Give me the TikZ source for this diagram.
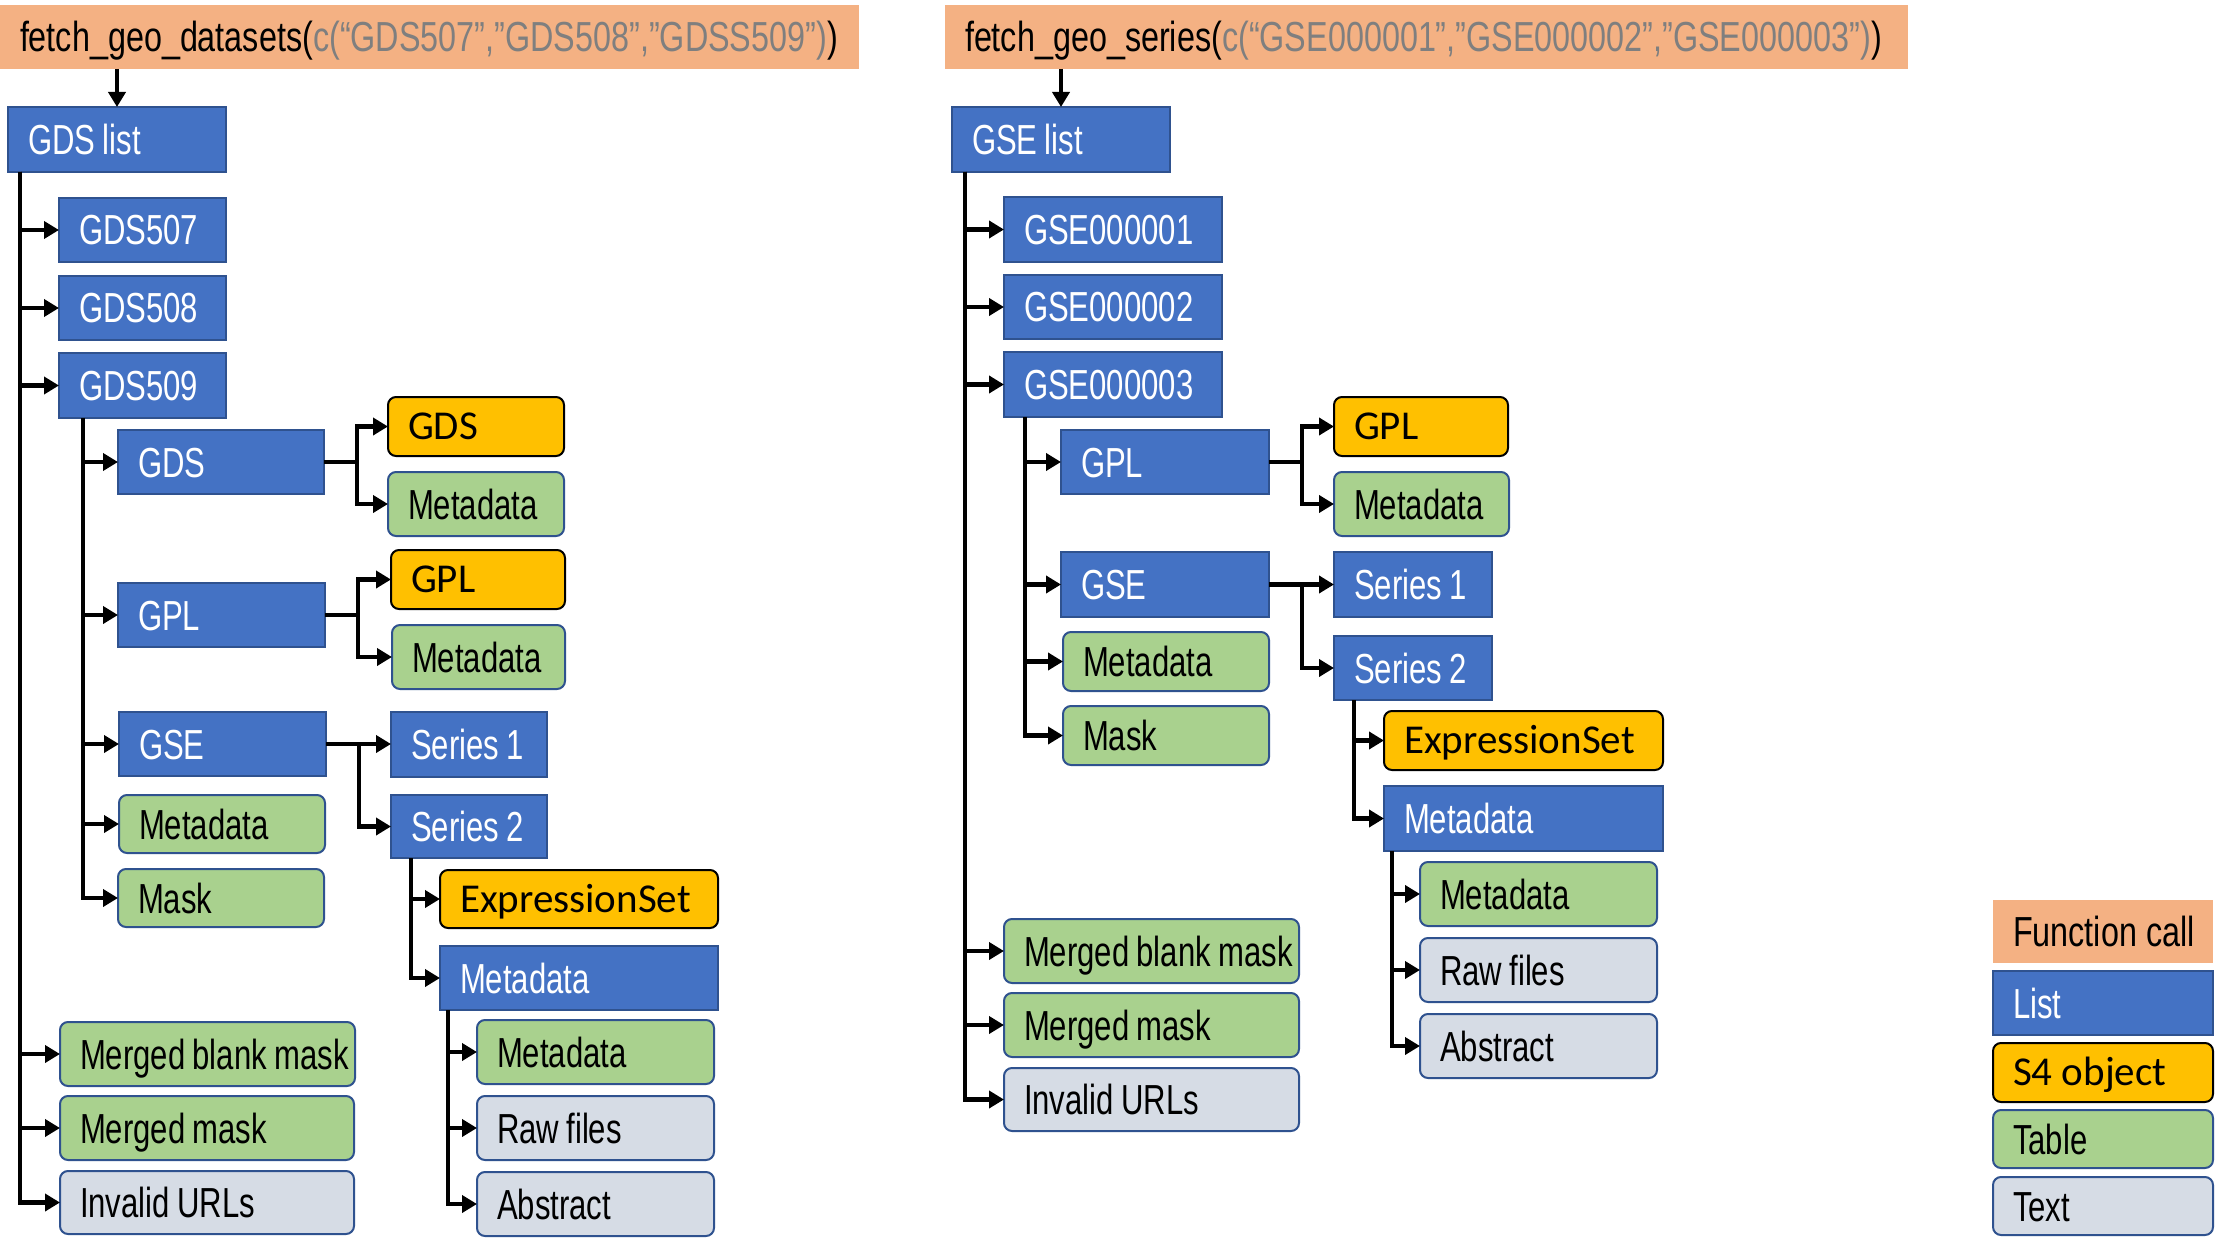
\documentclass[tikz,border=0pt]{standalone}
\usepackage{fontspec}
\newfontfamily\narrowfont{Liberation Sans}[FakeStretch=0.74, WordSpace=0.85]
\newfontfamily\titlefont{Liberation Sans}[FakeStretch=0.77]
\newfontfamily\calfont{Carlito}
\usetikzlibrary{arrows.meta}

\definecolor{fcallfill}{HTML}{F4B183}
\definecolor{listfill}{HTML}{4472C4}
\definecolor{listdraw}{HTML}{2F528F}
\definecolor{s4fill}{HTML}{FFC000}
\definecolor{tablefill}{HTML}{A9D18E}
\definecolor{textfill}{HTML}{D6DCE5}
\definecolor{argcolor}{HTML}{7F7F7F}

% box: name, style, left, top, right, bottom, label
\newcommand\gbox[7]{%
  \pgfmathsetmacro\gbw{#5-#3}%
  \pgfmathsetmacro\gbh{#6-#4}%
  \pgfmathsetmacro\gbt{#5-#3-40}%
  \node[#2, anchor=north west, minimum width=\gbw pt, minimum height=\gbh pt]
    (#1) at (#3,#4) {\makebox[\gbt pt][l]{#7}};}

\tikzset{
  box/.style={inner xsep=20pt, inner ysep=0pt, outer sep=0pt, line width=2pt,
    text height=30pt, text depth=0pt,
    font=\narrowfont\fontsize{42}{46}\selectfont},
  fcall/.style={box, fill=fcallfill, draw=none,
    font=\titlefont\fontsize{42}{46}\selectfont},
  lst/.style={box, fill=listfill, draw=listdraw, text=white},
  sfour/.style={box, fill=s4fill, draw=black, rounded corners=8pt,
    font=\calfont\fontsize{41}{46}\selectfont, text height=26.4pt},
  tbl/.style={box, fill=tablefill, draw=listdraw, rounded corners=8pt},
  txt/.style={box, fill=textfill, draw=listdraw, rounded corners=8pt},
  conn/.style={line width=4.5pt, draw=black, -{Triangle[length=15pt,width=17pt]}},
}

\begin{document}
\begin{tikzpicture}[x=1pt, y=-1pt]
\fill[white] (0,0) rectangle (2217,1241);
\useasboundingbox (0,0) rectangle (2217,1241);

% ---------- GEO datasets ----------
\gbox{fcL}{fcall}{0}{5}{859}{69}{fetch\_geo\_datasets(\textcolor{argcolor}{c(“GDS507”,”GDS508”,”GDSS509”)})}
\gbox{gdslist}{lst}{8}{107}{226}{172}{GDS list}
\gbox{gds507}{lst}{59}{198}{226}{262}{GDS507}
\gbox{gds508}{lst}{59}{276}{226}{340}{GDS508}
\gbox{gds509}{lst}{59}{353}{226}{418}{GDS509}
\gbox{gdsB}{lst}{118}{430}{324}{494}{GDS}
\gbox{gdsY}{sfour}{388}{397}{564}{456}{GDS}
\gbox{gdsM}{tbl}{388}{472}{564}{536}{Metadata}
\gbox{gplB}{lst}{118}{583}{325}{647}{GPL}
\gbox{gplY}{sfour}{391}{550}{565}{609}{GPL}
\gbox{gplM}{tbl}{392}{625}{565}{689}{Metadata}
\gbox{gseB}{lst}{119}{712}{326}{776}{GSE}
\gbox{sOneL}{lst}{391}{712}{547}{777}{Series 1}
\gbox{sTwoL}{lst}{391}{795}{547}{858}{Series 2}
\gbox{metaL}{tbl}{119}{795}{325}{853}{Metadata}
\gbox{maskL}{tbl}{118}{869}{324}{927}{Mask}
\gbox{exprL}{sfour}{440}{870}{718}{928}{ExpressionSet}
\gbox{metaBL}{lst}{440}{946}{718}{1010}{Metadata}
\gbox{metaCL}{tbl}{477}{1020}{714}{1084}{Metadata}
\gbox{rawL}{txt}{477}{1096}{714}{1160}{Raw files}
\gbox{absL}{txt}{477}{1172}{714}{1236}{Abstract}
\gbox{mbmL}{tbl}{60}{1022}{355}{1086}{Merged blank mask}
\gbox{mmL}{tbl}{60}{1096}{354}{1160}{Merged mask}
\gbox{invL}{txt}{60}{1171}{354}{1234}{Invalid URLs}

\draw[conn] ([xshift=117pt]fcL.south west) -- ([xshift=109pt]gdslist.north west);
\foreach \c in {gds507,gds508,gds509,mbmL,mmL,invL}
  \draw[conn] ([xshift=12pt]gdslist.south west) |- (\c.west);
\foreach \c in {gdsB,gplB,gseB,metaL,maskL}
  \draw[conn] ([xshift=24pt]gds509.south west) |- (\c.west);
\draw[conn] (gdsB.east) -- ++(33,0) |- (gdsY.west);
\draw[conn] (gdsB.east) -- ++(33,0) |- (gdsM.west);
\draw[conn] (gplB.east) -- ++(33,0) |- (gplY.west);
\draw[conn] (gplB.east) -- ++(33,0) |- (gplM.west);
\draw[conn] (gseB.east) -- (gseB.east -| sOneL.west);
\draw[conn] (gseB.east) -- ++(33,0) |- (sTwoL.west);
\foreach \c in {exprL,metaBL}
  \draw[conn] ([xshift=20pt]sTwoL.south west) |- (\c.west);
\foreach \c in {metaCL,rawL,absL}
  \draw[conn] ([xshift=8pt]metaBL.south west) |- (\c.west);

% ---------- GEO series ----------
\gbox{fcR}{fcall}{945}{5}{1908}{69}{fetch\_geo\_series(\textcolor{argcolor}{c(“GSE000001”,”GSE000002”,”GSE000003”)})}
\gbox{gselist}{lst}{952}{107}{1170}{172}{GSE list}
\gbox{gseA}{lst}{1004}{197}{1222}{262}{GSE000001}
\gbox{gseBb}{lst}{1004}{275}{1222}{339}{GSE000002}
\gbox{gseC}{lst}{1004}{352}{1222}{417}{GSE000003}
\gbox{gplBR}{lst}{1061}{430}{1269}{494}{GPL}
\gbox{gplYR}{sfour}{1334}{397}{1508}{456}{GPL}
\gbox{gplMR}{tbl}{1334}{472}{1509}{536}{Metadata}
\gbox{gseBR}{lst}{1061}{552}{1269}{617}{GSE}
\gbox{sOneR}{lst}{1334}{552}{1492}{617}{Series 1}
\gbox{sTwoR}{lst}{1334}{636}{1492}{700}{Series 2}
\gbox{metaR}{tbl}{1063}{632}{1269}{691}{Metadata}
\gbox{maskR}{tbl}{1063}{706}{1269}{765}{Mask}
\gbox{exprR}{sfour}{1384}{711}{1663}{770}{ExpressionSet}
\gbox{metaBR}{lst}{1384}{786}{1663}{851}{Metadata}
\gbox{metaCR}{tbl}{1420}{862}{1657}{926}{Metadata}
\gbox{rawR}{txt}{1420}{938}{1657}{1002}{Raw files}
\gbox{absR}{txt}{1420}{1014}{1657}{1078}{Abstract}
\gbox{mbmR}{tbl}{1004}{919}{1299}{983}{Merged blank mask}
\gbox{mmR}{tbl}{1004}{993}{1299}{1057}{Merged mask}
\gbox{invR}{txt}{1004}{1068}{1299}{1131}{Invalid URLs}

\draw[conn] ([xshift=116pt]fcR.south west) -- ([xshift=109pt]gselist.north west);
\foreach \c in {gseA,gseBb,gseC,mbmR,mmR,invR}
  \draw[conn] ([xshift=13pt]gselist.south west) |- (\c.west);
\foreach \c in {gplBR,gseBR,metaR,maskR}
  \draw[conn] ([xshift=21pt]gseC.south west) |- (\c.west);
\draw[conn] (gplBR.east) -- ++(33,0) |- (gplYR.west);
\draw[conn] (gplBR.east) -- ++(33,0) |- (gplMR.west);
\draw[conn] (gseBR.east) -- (gseBR.east -| sOneR.west);
\draw[conn] (gseBR.east) -- ++(33,0) |- (sTwoR.west);
\foreach \c in {exprR,metaBR}
  \draw[conn] ([xshift=20pt]sTwoR.south west) |- (\c.west);
\foreach \c in {metaCR,rawR,absR}
  \draw[conn] ([xshift=8pt]metaBR.south west) |- (\c.west);

% ---------- legend ----------
\gbox{legFc}{fcall}{1993}{900}{2213}{963}{Function call}
\gbox{legList}{lst}{1993}{971}{2213}{1035}{List}
\gbox{legSfour}{sfour}{1993}{1043}{2213}{1102}{S4 object}
\gbox{legTbl}{tbl}{1993}{1110}{2213}{1168}{Table}
\gbox{legTxt}{txt}{1993}{1177}{2213}{1235}{Text}
\end{tikzpicture}
\end{document}
